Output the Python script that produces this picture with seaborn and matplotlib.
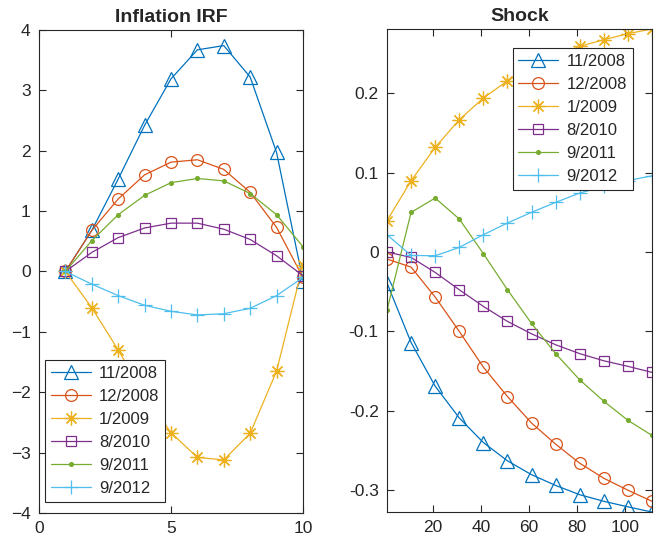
import numpy as np
import pandas as pd
import matplotlib
matplotlib.use("Agg")
import matplotlib.pyplot as plt
import seaborn as sns

# Dates of the shocks, one series per date
labels = ["11/2008", "12/2008", "1/2009", "8/2010", "9/2011", "9/2012"]
colors = ["#0072BD", "#D95319", "#EDB120", "#7E2F8E", "#77AC30", "#4DBEEE"]

# Inflation impulse responses, horizons 1..10
irf_h = [1, 2, 3, 4, 5, 6, 7, 8, 9, 10]
irf_nov08 = [0.0, 0.68, 1.53, 2.42, 3.19, 3.67, 3.74, 3.22, 1.97, -0.15]
irf_dec08 = [0.0, 0.68, 1.20, 1.60, 1.81, 1.85, 1.69, 1.31, 0.73, -0.10]
irf_jan09 = [0.0, -0.60, -1.30, -2.05, -2.67, -3.08, -3.12, -2.68, -1.65, 0.11]
irf_aug10 = [0.0, 0.315, 0.56, 0.72, 0.80, 0.80, 0.70, 0.53, 0.26, -0.07]
irf_sep11 = [0.0, 0.51, 0.94, 1.26, 1.47, 1.54, 1.50, 1.29, 0.94, 0.41]
irf_sep12 = [0.0, -0.21, -0.40, -0.56, -0.66, -0.72, -0.70, -0.61, -0.40, -0.10]

# Shock paths, periods 1, 11, ..., 111
shock_t = [1, 11, 21, 31, 41, 51, 61, 71, 81, 91, 101, 111]
shock_nov08 = [-0.039, -0.114, -0.169, -0.209, -0.240, -0.263, -0.2805, -0.294,
               -0.3057, -0.314, -0.321, -0.3275]
shock_dec08 = [-0.0088, -0.019, -0.0567, -0.100, -0.145, -0.182, -0.2154, -0.242,
               -0.266, -0.285, -0.300, -0.314]
shock_jan09 = [0.0394, 0.0898, 0.1318, 0.1666, 0.194, 0.2157, 0.233, 0.248,
               0.259, 0.2674, 0.275, 0.281]
shock_aug10 = [0.0, -0.0068, -0.0257, -0.0475, -0.0685, -0.0874, -0.103, -0.1168,
               -0.128, -0.137, -0.144, -0.1516]
shock_sep11 = [-0.0735, 0.0499, 0.068, 0.0416, -0.002, -0.0475, -0.090, -0.128,
               -0.161, -0.188, -0.212, -0.231]
shock_sep12 = [0.0218, -0.0043, -0.0047, 0.0058, 0.0218, 0.0365, 0.050, 0.0625,
               0.0743, 0.0826, 0.090, 0.096]

irf_series = [irf_nov08, irf_dec08, irf_jan09, irf_aug10, irf_sep11, irf_sep12]
shock_series = [shock_nov08, shock_dec08, shock_jan09, shock_aug10, shock_sep11, shock_sep12]

# Marker look for each series: (marker, size, filled, edge width)
marker_styles = [
    ("^", 9.5, False, 0.9),
    ("o", 8.5, False, 0.9),
    ((8, 2, 0), 10, False, 0.9),
    ("s", 7.5, False, 0.9),
    (".", 5.5, True, 0.9),
    ("+", 10, False, 0.9),
]

sns.set_theme(style="white")
plt.rcParams["font.family"] = ["Liberation Sans", "DejaVu Sans"]
axis_col = "#262626"

fig = plt.figure(figsize=(6.7, 5.44), dpi=100)
ax1 = fig.add_axes([0.0582, 0.0570, 0.394, 0.888])
ax2 = fig.add_axes([0.5776, 0.0588, 0.3955, 0.888])


def draw_panel(ax, xs, series_list):
    for lab, col, ys, (mk, ms, filled, mew) in zip(labels, colors, series_list, marker_styles):
        df = pd.DataFrame({"x": xs, "y": ys})
        sns.lineplot(data=df, x="x", y="y", ax=ax, color=col, linewidth=0.9,
                     marker=mk, markersize=ms, markeredgewidth=mew,
                     markeredgecolor=col,
                     markerfacecolor=col if filled else "none",
                     label=lab, sort=False, estimator=None)
    ax.set_xlabel("")
    ax.set_ylabel("")
    for s in ax.spines.values():
        s.set_visible(True)
        s.set_color(axis_col)
        s.set_linewidth(0.8)
    ax.tick_params(direction="in", length=5, width=0.8, colors=axis_col,
                   labelsize=12.5, top=True, right=True, bottom=True, left=True,
                   labelcolor="#262626", pad=6)


draw_panel(ax1, irf_h, irf_series)
ax1.set_xlim(0, 10)
ax1.set_ylim(-4, 4)
ax1.set_xticks([0, 5, 10])
ax1.set_yticks([-4, -3, -2, -1, 0, 1, 2, 3, 4])
ax1.set_title("Inflation IRF", fontsize=14, fontweight="bold", pad=6)

draw_panel(ax2, shock_t, shock_series)
all_shock = np.concatenate([np.asarray(s) for s in shock_series])
ax2.set_xlim(min(shock_t), max(shock_t))
ax2.set_ylim(all_shock.min(), all_shock.max())
ax2.set_xticks([20, 40, 60, 80, 100])
ax2.set_yticks([-0.3, -0.2, -0.1, 0, 0.1, 0.2])
ax2.set_yticklabels(["-0.3", "-0.2", "-0.1", "0", "0.1", "0.2"])
ax2.set_title("Shock", fontsize=14, fontweight="bold", pad=6)

leg_kw = dict(fontsize=12, frameon=True, fancybox=False, framealpha=1,
              edgecolor="#262626", handlelength=2.4, handletextpad=0.5,
              labelspacing=0.48, borderpad=0.35, borderaxespad=0)
lg1 = ax1.legend(loc="lower left", bbox_to_anchor=(0.023, 0.023), **leg_kw)
lg2 = ax2.legend(loc="upper right", bbox_to_anchor=(0.928, 0.96), **leg_kw)
for lg in (lg1, lg2):
    lg.get_frame().set_linewidth(0.8)

fig.savefig("out.png", dpi=100)
